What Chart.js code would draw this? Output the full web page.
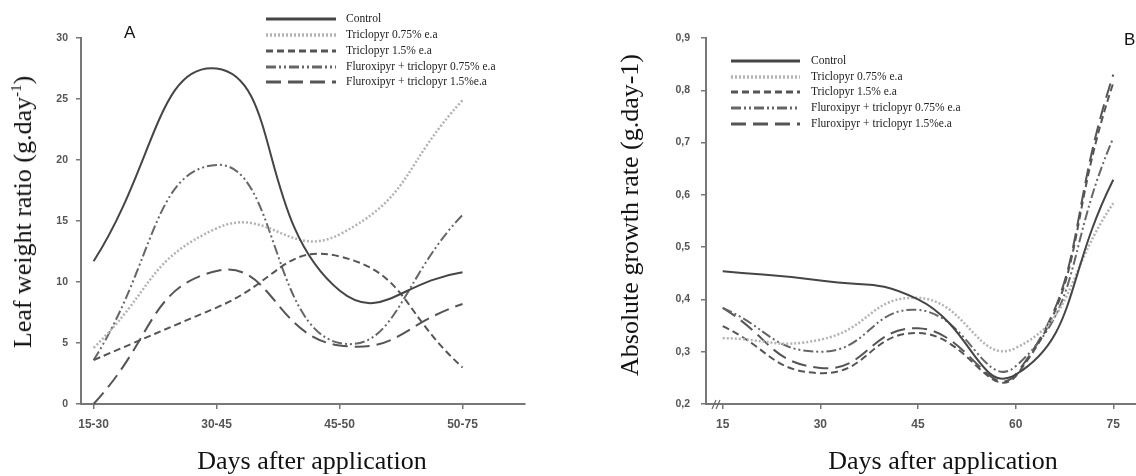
<!DOCTYPE html>
<html>
<head>
<meta charset="utf-8">
<script src="https://cdn.jsdelivr.net/npm/chart.js@4.4.1/dist/chart.umd.min.js"></script>
<style>
  html, body { margin: 0; padding: 0; background: #fff; }
  #wrap { position: relative; width: 1136px; height: 476px; overflow: hidden; }
  .panel { position: absolute; top: 0; height: 476px; }
  #boxA { left: 0; width: 560px; }
  #boxB { left: 560px; width: 576px; }
  .tag { position: absolute; font-family: "Liberation Sans", Arial, sans-serif; font-size: 17px; color: #111; line-height: 1; }
  .ttl { position: absolute; font-family: "Liberation Serif", "Times New Roman", serif; font-size: 26px; color: #111;
         line-height: 30px; white-space: nowrap; transform: translate(-50%, -50%); }
  .ttl.v { transform: translate(-50%, -50%) rotate(-90deg); }
  .ttl sup { font-size: 15px; line-height: 0; }
</style>
</head>
<body>
<div id="wrap">
  <div class="panel" id="boxA"><canvas id="chartA" width="560" height="476"></canvas></div>
  <div class="panel" id="boxB"><canvas id="chartB" width="576" height="476"></canvas></div>
  <div class="tag" style="left:124px; top:24px;">A</div>
  <div class="tag" style="left:1124px; top:31px;">B</div>
  <div class="ttl v" style="left:23px; top:212px;">Leaf weight ratio (g.day<sup>-1</sup>)</div>
  <div class="ttl v" style="left:630px; top:215px;">Absolute growth rate (g.day-1)</div>
  <div class="ttl" style="left:312px; top:461px;">Days after application</div>
  <div class="ttl" style="left:943px; top:461px;">Days after application</div>
</div>
<script>
// series labels (same for both panels)
const seriesNames = [
  'Control',
  'Triclopyr 0.75% e.a',
  'Triclopyr 1.5% e.a',
  'Fluroxipyr + triclopyr 0.75% e.a',
  'Fluroxipyr + triclopyr 1.5%e.a'
];

// panel A: leaf weight ratio per period
const periodsA = ['15-30', '30-45', '45-50', '50-75'];
const controlA = [11.7, 27.5, 9.3, 10.8];
const tri075A  = [4.6, 14.4, 13.9, 24.9];
const tri15A   = [3.6, 7.9, 12.1, 3.0];
const flu075A  = [3.6, 19.6, 5.0, 15.5];
const flu15A   = [0.0, 10.9, 4.8, 8.2];
const yTicksA  = [0, 5, 10, 15, 20, 25, 30];

// panel B: absolute growth rate per day
const daysB    = [15, 30, 45, 60, 75];
const controlB = [0.454, 0.436, 0.400, 0.256, 0.629];
const tri075B  = [0.326, 0.323, 0.403, 0.307, 0.584];
const tri15B   = [0.349, 0.259, 0.336, 0.253, 0.814];
const flu075B  = [0.384, 0.300, 0.380, 0.272, 0.709];
const flu15B   = [0.384, 0.269, 0.345, 0.256, 0.830];
const yTicksB  = [0.2, 0.3, 0.4, 0.5, 0.6, 0.7, 0.8, 0.9];

const lineStyles = [
  { color: '#454545', dash: [], width: 2 },
  { color: '#b3b3b3', dash: [2, 2], width: 2.5 },
  { color: '#555555', dash: [7, 4], width: 2 },
  { color: '#666666', dash: [10, 3, 2, 3, 2, 3], width: 2 },
  { color: '#555555', dash: [15, 7], width: 2 }
];

const xTickFont = { family: '"Liberation Sans", Arial, sans-serif', size: 12, weight: 'bold' };
const yTickFont = { family: '"Liberation Sans", Arial, sans-serif', size: 10.5, weight: 'bold' };

function makeDatasets(xs, seriesList) {
  return seriesList.map((vals, i) => ({
    label: seriesNames[i],
    data: vals.map((v, j) => ({ x: xs[j], y: v })),
    borderColor: lineStyles[i].color,
    borderDash: lineStyles[i].dash,
    borderWidth: lineStyles[i].width,
    pointRadius: 0,
    fill: false,
    tension: 0.5,
    clip: false
  }));
}

// legend drawn from the datasets' own styles
const lineKey = {
  id: 'lineKey',
  afterDraw(chart, args, opts) {
    const ctx = chart.ctx;
    ctx.save();
    ctx.font = '11.5px "Liberation Serif", "Times New Roman", serif';
    ctx.textBaseline = 'middle';
    chart.data.datasets.forEach((ds, i) => {
      const y = opts.ys[i];
      ctx.beginPath();
      ctx.setLineDash(ds.borderDash || []);
      ctx.strokeStyle = ds.borderColor;
      ctx.lineWidth = ds.borderWidth + 0.8;
      ctx.moveTo(opts.x0, y);
      ctx.lineTo(opts.x1, y);
      ctx.stroke();
      ctx.setLineDash([]);
      ctx.fillStyle = '#222';
      ctx.fillText(ds.label, opts.tx, y);
    });
    ctx.restore();
  }
};

// "//" axis break on panel B
const axisBreak = {
  id: 'axisBreak',
  afterDraw(chart, args, opts) {
    if (!opts.on) return;
    const ctx = chart.ctx;
    const x = chart.scales.x.left + 6, y = chart.scales.y.bottom;
    ctx.save();
    ctx.strokeStyle = '#666';
    ctx.lineWidth = 1.2;
    ctx.beginPath();
    ctx.moveTo(x, y + 5); ctx.lineTo(x + 4, y - 4);
    ctx.moveTo(x + 4, y + 5); ctx.lineTo(x + 8, y - 4);
    ctx.stroke();
    ctx.restore();
  }
};

function axisCommon() {
  return {
    grid: { drawOnChartArea: false, tickLength: 5, color: '#777', lineWidth: 1.5 },
    border: { color: '#777', width: 2 }
  };
}

new Chart(document.getElementById('chartA'), {
  type: 'line',
  data: { datasets: makeDatasets(periodsA.map((_, i) => i), [controlA, tri075A, tri15A, flu075A, flu15A]) },
  options: {
    responsive: false,
    animation: false,
    layout: { padding: { left: 0, top: 38, right: 35, bottom: 0 } },
    plugins: {
      legend: { display: false },
      tooltip: { enabled: false },
      lineKey: { x0: 266, x1: 336, tx: 346, ys: [19, 35, 51, 67, 82] },
      axisBreak: { on: false }
    },
    scales: {
      x: {
        type: 'linear', min: -0.1025, max: 3.508,
        afterBuildTicks: s => { s.ticks = periodsA.map((_, i) => ({ value: i })); },
        afterFit: s => { s.height = 72; },
        ticks: { callback: v => periodsA[v], font: xTickFont, color: '#555', padding: 8, maxRotation: 0, autoSkip: false },
        ...axisCommon()
      },
      y: {
        min: 0, max: 30,
        afterBuildTicks: s => { s.ticks = yTicksA.map(v => ({ value: v })); },
        afterFit: s => { s.width = 81; },
        ticks: { font: yTickFont, color: '#555', padding: 8 },
        ...axisCommon()
      }
    }
  },
  plugins: [lineKey, axisBreak]
});

new Chart(document.getElementById('chartB'), {
  type: 'line',
  data: { datasets: makeDatasets(daysB, [controlB, tri075B, tri15B, flu075B, flu15B]) },
  options: {
    responsive: false,
    animation: false,
    layout: { padding: { left: 0, top: 38, right: 0, bottom: 0 } },
    plugins: {
      legend: { display: false },
      tooltip: { enabled: false },
      lineKey: { x0: 171, x1: 240, tx: 251, ys: [61, 77, 92, 108, 124] },
      axisBreak: { on: true }
    },
    scales: {
      x: {
        type: 'linear', min: 12.435, max: 78.49,
        afterBuildTicks: s => { s.ticks = daysB.map(v => ({ value: v })); },
        afterFit: s => { s.height = 72; },
        ticks: { font: xTickFont, color: '#555', padding: 8, maxRotation: 0, autoSkip: false },
        ...axisCommon()
      },
      y: {
        min: 0.2, max: 0.9,
        afterBuildTicks: s => { s.ticks = yTicksB.map(v => ({ value: v })); },
        afterFit: s => { s.width = 146; },
        ticks: { font: yTickFont, color: '#555', padding: 11, callback: v => v.toFixed(1).replace('.', ',') },
        ...axisCommon()
      }
    }
  },
  plugins: [lineKey, axisBreak]
});
</script>
</body>
</html>
